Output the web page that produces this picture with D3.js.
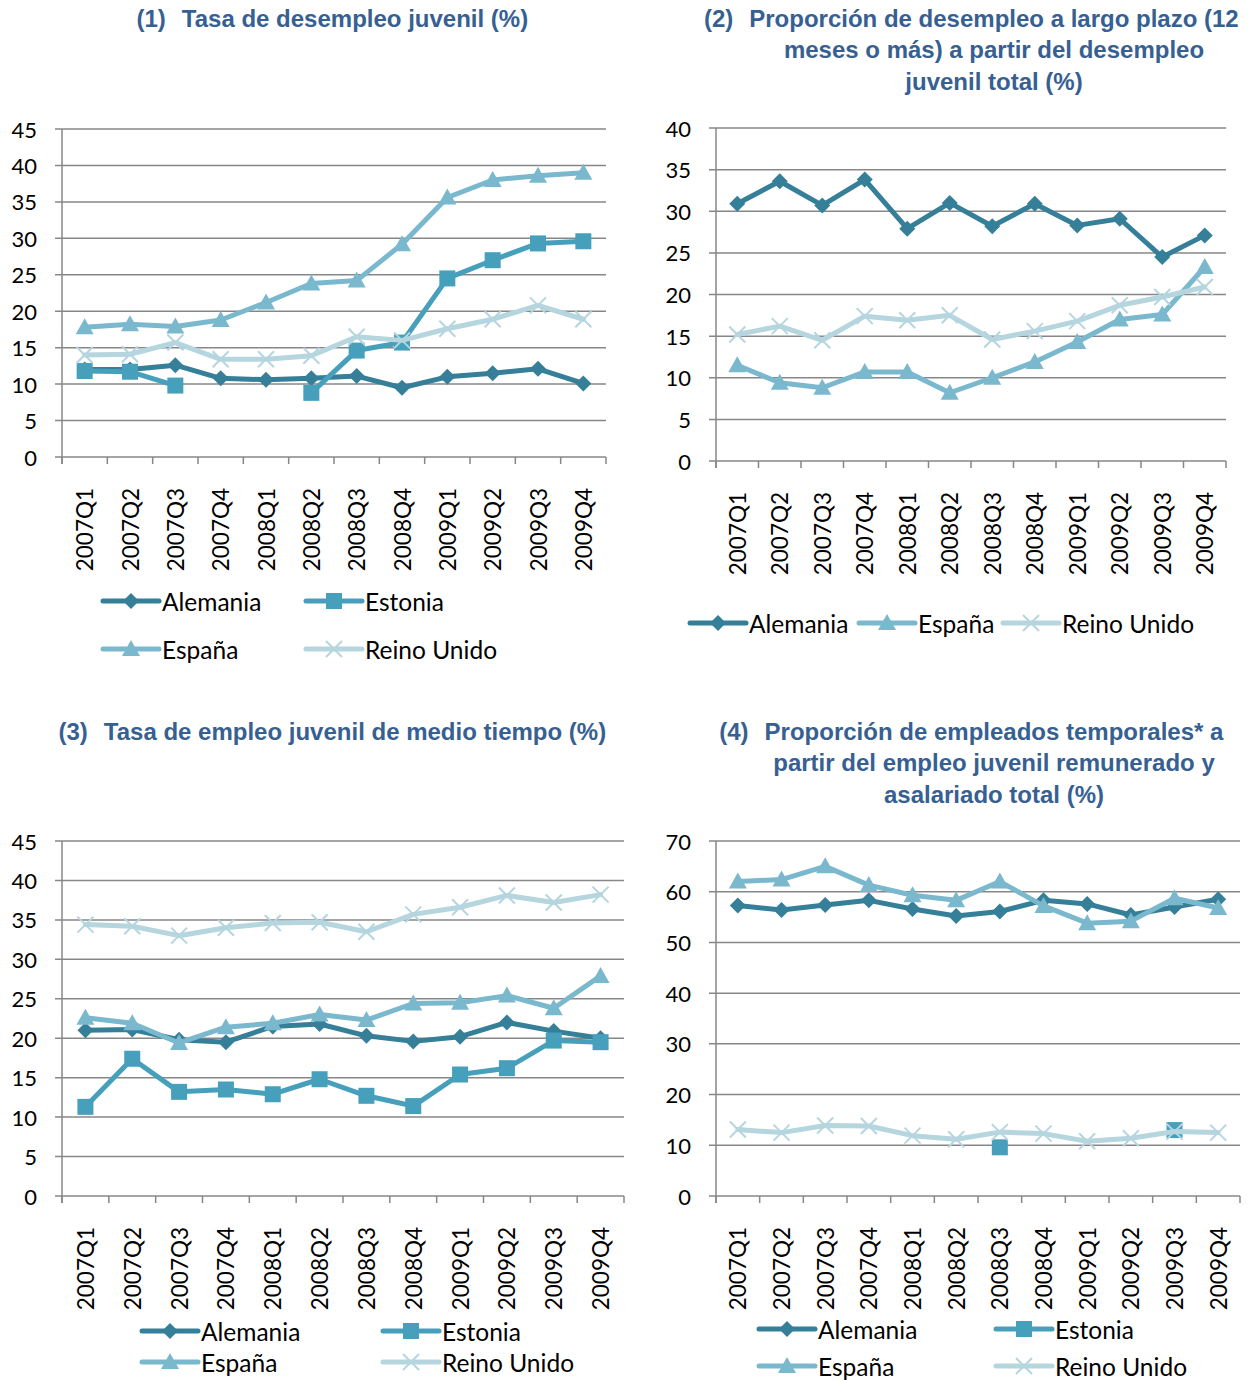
<!DOCTYPE html>
<html>
<head>
<meta charset="utf-8">
<script src="https://cdn.jsdelivr.net/npm/d3@7"></script>
<style>
  body { margin: 0; background: #fff; }
  svg { display: block; }
</style>
</head>
<body>
<div id="chart"></div>
<script>
// quarters on the x axis
var quarters = ['2007Q1','2007Q2','2007Q3','2007Q4','2008Q1','2008Q2','2008Q3','2008Q4','2009Q1','2009Q2','2009Q3','2009Q4']
var countries = ['Alemania', 'Estonia', 'España', 'Reino Unido']

// (1) Tasa de desempleo juvenil
var c1Alemania = [12.0, 12.0, 12.6, 10.8, 10.6, 10.8, 11.1, 9.5, 11.0, 11.5, 12.1, 10.1]
var c1Estonia  = [11.8, 11.7, 9.8, null, null, 8.8, 14.6, 15.7, 24.5, 27.0, 29.3, 29.6]
var c1Espana   = [17.8, 18.2, 17.9, 18.8, 21.2, 23.8, 24.2, 29.2, 35.6, 38.0, 38.6, 39.0]
var c1Reino    = [14.0, 14.1, 15.7, 13.4, 13.4, 13.9, 16.5, 16.0, 17.6, 18.9, 20.8, 18.9]

// (2) Proporción de desempleo a largo plazo
var c2Alemania = [30.9, 33.6, 30.7, 33.8, 27.9, 31.0, 28.2, 30.9, 28.3, 29.1, 24.5, 27.1]
var c2Espana   = [11.5, 9.4, 8.8, 10.7, 10.7, 8.2, 10.0, 11.9, 14.3, 17.0, 17.6, 23.3]
var c2Reino    = [15.2, 16.2, 14.5, 17.4, 16.9, 17.5, 14.6, 15.6, 16.8, 18.7, 19.7, 20.9]

// (3) Tasa de empleo juvenil de medio tiempo
var c3Alemania = [21.0, 21.1, 19.8, 19.5, 21.5, 21.8, 20.3, 19.6, 20.2, 22.0, 20.9, 20.0]
var c3Estonia  = [11.3, 17.4, 13.2, 13.5, 12.9, 14.8, 12.7, 11.4, 15.4, 16.2, 19.7, 19.5]
var c3Espana   = [22.6, 21.9, 19.4, 21.4, 21.9, 23.0, 22.3, 24.4, 24.5, 25.4, 23.8, 27.9]
var c3Reino    = [34.4, 34.2, 33.0, 34.0, 34.6, 34.7, 33.5, 35.7, 36.6, 38.1, 37.2, 38.2]

// (4) Proporción de empleados temporales
var c4Alemania = [57.3, 56.4, 57.4, 58.3, 56.6, 55.2, 56.1, 58.3, 57.6, 55.4, 57.0, 58.5]
var c4Estonia  = [null, null, null, null, null, null, 9.6, null, null, null, 13.0, null]
var c4Espana   = [62.0, 62.4, 65.0, 61.3, 59.3, 58.3, 62.0, 57.2, 53.8, 54.2, 58.7, 56.8]
var c4Reino    = [13.1, 12.5, 13.9, 13.8, 11.9, 11.2, 12.6, 12.3, 10.8, 11.4, 12.7, 12.5]

var yTicks1 = [0, 5, 10, 15, 20, 25, 30, 35, 40, 45]
var yTicks2 = [0, 5, 10, 15, 20, 25, 30, 35, 40]
var yTicks4 = [0, 10, 20, 30, 40, 50, 60, 70]

var colors = {
    'Alemania': '#357f98',
    'Estonia': '#46a0bb',
    'España': '#7ab8ce',
    'Reino Unido': '#b5d5df'
}
var shapes = {
    'Alemania': 'diamond',
    'Estonia': 'square',
    'España': 'triangle',
    'Reino Unido': 'cross'
}

var charts = [
    {
        num: '(1)', title: ['Tasa de desempleo juvenil (%)'], tx: 355, ty: 18,
        x0: 62, x1: 606, y0: 129, y1: 457, max: 45, ticks: yTicks1,
        series: [['Alemania', c1Alemania], ['Estonia', c1Estonia], ['España', c1Espana], ['Reino Unido', c1Reino]],
        legend: [[103, 601, 'Alemania'], [306, 601, 'Estonia'], [103, 649, 'España'], [306, 649, 'Reino Unido']]
    },
    {
        num: '(2)', title: ['Proporción de desempleo a largo plazo (12', 'meses o más) a partir del desempleo', 'juvenil total (%)'], tx: 994, ty: 18,
        x0: 716, x1: 1226, y0: 128, y1: 461, max: 40, ticks: yTicks2,
        series: [['Alemania', c2Alemania], ['España', c2Espana], ['Reino Unido', c2Reino]],
        legend: [[690, 623, 'Alemania'], [859, 623, 'España'], [1003, 623, 'Reino Unido']]
    },
    {
        num: '(3)', title: ['Tasa de empleo juvenil de medio tiempo (%)'], tx: 355, ty: 731,
        x0: 62, x1: 624, y0: 841, y1: 1196, max: 45, ticks: yTicks1,
        series: [['Alemania', c3Alemania], ['Estonia', c3Estonia], ['España', c3Espana], ['Reino Unido', c3Reino]],
        legend: [[142, 1331, 'Alemania'], [383, 1331, 'Estonia'], [142, 1362, 'España'], [383, 1362, 'Reino Unido']]
    },
    {
        num: '(4)', title: ['Proporción de empleados temporales* a', 'partir del empleo juvenil remunerado y', 'asalariado total (%)'], tx: 994, ty: 731,
        x0: 716, x1: 1240, y0: 841, y1: 1196, max: 70, ticks: yTicks4,
        series: [['Alemania', c4Alemania], ['Estonia', c4Estonia], ['España', c4Espana], ['Reino Unido', c4Reino]],
        legend: [[759, 1329, 'Alemania'], [996, 1329, 'Estonia'], [759, 1366, 'España'], [996, 1366, 'Reino Unido']]
    }
]

var svg = d3.select('#chart').append('svg')
    .attr('width', 1250)
    .attr('height', 1380)

var font = 'Lato, "Open Sans", sans-serif'
var titleFont = '"Liberation Sans", Arial, sans-serif'

function marker(g, name, x, y) {
    var c = colors[name]
    var s = shapes[name]
    if (s == 'diamond') {
        g.append('path').attr('d', `M${x},${y-8}L${x+8},${y}L${x},${y+8}L${x-8},${y}Z`).attr('fill', c)
    } else if (s == 'square') {
        g.append('rect').attr('x', x-8).attr('y', y-8).attr('width', 16).attr('height', 16).attr('fill', c)
    } else if (s == 'triangle') {
        g.append('path').attr('d', `M${x},${y-9}L${x+9},${y+7}L${x-9},${y+7}Z`).attr('fill', c)
    } else {
        g.append('path').attr('d', `M${x-8},${y-8}L${x+8},${y+8}M${x-8},${y+8}L${x+8},${y-8}`)
            .attr('stroke', c).attr('stroke-width', 2).attr('fill', 'none')
    }
}

charts.forEach(ch => {
    var g = svg.append('g')

    var x = d3.scaleBand().domain(quarters).range([ch.x0, ch.x1])
    var y = d3.scaleLinear().domain([0, ch.max]).range([ch.y1, ch.y0])

    // gridlines + y ticks
    g.selectAll('.grid').data(ch.ticks).enter().append('line')
        .attr('x1', ch.x0 - 7).attr('x2', ch.x1)
        .attr('y1', d => y(d)).attr('y2', d => y(d))
        .attr('stroke', '#878787').attr('stroke-width', 1.5)

    g.selectAll('.ylab').data(ch.ticks).enter().append('text')
        .attr('x', ch.x0 - 25).attr('y', d => y(d))
        .attr('text-anchor', 'end').attr('dominant-baseline', 'central')
        .style('font-family', font).style('font-size', '22px').attr('fill', '#000')
        .text(d => d)

    // axes
    g.append('line').attr('x1', ch.x0).attr('x2', ch.x0).attr('y1', ch.y0).attr('y2', ch.y1 + 7)
        .attr('stroke', '#878787').attr('stroke-width', 1.5)
    var bounds = quarters.map(q => x(q)).concat([ch.x1])
    g.selectAll('.xtick').data(bounds).enter().append('line')
        .attr('x1', d => d).attr('x2', d => d).attr('y1', ch.y1).attr('y2', ch.y1 + 7)
        .attr('stroke', '#878787').attr('stroke-width', 1.5)

    g.selectAll('.xlab').data(quarters).enter().append('text')
        .attr('transform', d => `translate(${x(d) + x.bandwidth() / 2},${ch.y1 + 31}) rotate(-90)`)
        .attr('text-anchor', 'end').attr('dominant-baseline', 'central')
        .style('font-family', font).style('font-size', '22.5px').attr('fill', '#000')
        .text(d => d)

    // series
    var line = d3.line()
        .defined(d => d != null)
        .x((d, i) => x(quarters[i]) + x.bandwidth() / 2)
        .y(d => y(d))

    ch.series.forEach(s => {
        var name = s[0], vals = s[1]
        var sg = g.append('g')
        sg.append('path').attr('d', line(vals))
            .attr('fill', 'none').attr('stroke', colors[name]).attr('stroke-width', 5)
            .attr('stroke-linejoin', 'round').attr('stroke-linecap', 'round')
        vals.forEach((v, i) => {
            if (v != null) marker(sg, name, x(quarters[i]) + x.bandwidth() / 2, y(v))
        })
    })

    // legend
    ch.legend.forEach(l => {
        var lg = g.append('g')
        lg.append('line').attr('x1', l[0]).attr('x2', l[0] + 56).attr('y1', l[1]).attr('y2', l[1])
            .attr('stroke', colors[l[2]]).attr('stroke-width', 5).attr('stroke-linecap', 'round')
        marker(lg, l[2], l[0] + 28, l[1])
        lg.append('text').attr('x', l[0] + 59).attr('y', l[1])
            .attr('dominant-baseline', 'central')
            .style('font-family', font).style('font-size', '24.5px').attr('fill', '#000')
            .text(l[2])
    })

    // title
    var tg = g.append('g')
    var first = null
    ch.title.forEach((t, i) => {
        var tt = tg.append('text').attr('x', ch.tx).attr('y', ch.ty + i * 31.5)
            .attr('text-anchor', 'middle').attr('dominant-baseline', 'central')
            .style('font-family', titleFont).style('font-weight', 'bold')
            .style('font-size', '24px').attr('fill', '#376092')
            .text(t)
        if (i == 0) first = tt
    })
    var w = first.node().getComputedTextLength()
    tg.append('text').attr('x', ch.tx - w / 2 - 16).attr('y', ch.ty)
        .attr('text-anchor', 'end').attr('dominant-baseline', 'central')
        .style('font-family', titleFont).style('font-weight', 'bold')
        .style('font-size', '24px').attr('fill', '#376092')
        .text(ch.num)
})
</script>
</body>
</html>
